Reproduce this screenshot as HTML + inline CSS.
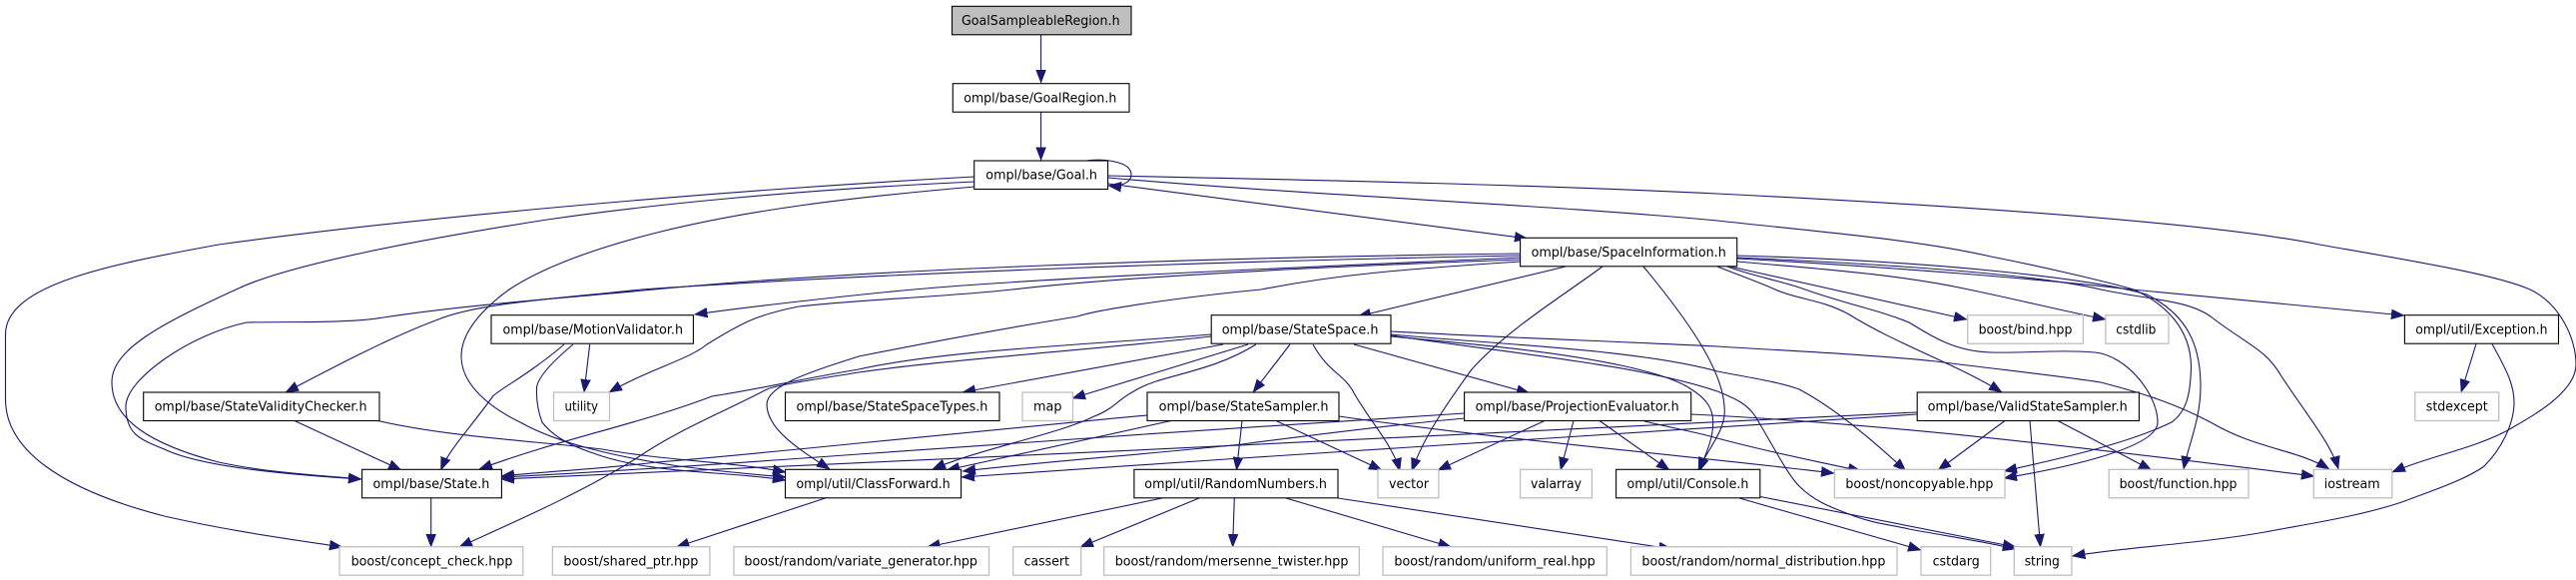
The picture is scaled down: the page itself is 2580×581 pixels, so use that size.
<!DOCTYPE html>
<html><head><meta charset="utf-8"><title>GoalSampleableRegion.h include graph</title>
<style>
html,body{margin:0;padding:0;background:#fff}
svg{display:block}
text{font-family:"DejaVu Sans","Liberation Sans",sans-serif;font-size:13px;fill:#000}
.e path{fill:none;stroke:#191970;stroke-width:1.1;marker-end:url(#a)}
.h rect{fill:#fff;stroke:#000;stroke-width:1.1}
.s rect{fill:#fff;stroke:#bfbfbf;stroke-width:1.3}
</style></head><body>
<svg width="2580" height="581" viewBox="0 0 2580 581" xmlns="http://www.w3.org/2000/svg">
<defs><marker id="a" markerUnits="userSpaceOnUse" markerWidth="15" markerHeight="12" refX="13" refY="5.5" orient="auto"><path d="M0,0.5 L13,5.5 L0,10.5 z" fill="#191970" stroke="#191970" stroke-width="0.5"/></marker></defs>
<g class="e">
<path d="M1042.6,35 L1042.6,83"/>
<path d="M1042.6,112.5 L1042.6,160.5"/>
<path d="M1088,161 C1100,159 1133,160 1133,175 C1133,184 1120,187 1110,186"/>
<path d="M1110,184 L1530,239"/>
<path d="M1110,176 C1350,181 1530,185 1720,194 C1900,203 2200,220 2323,245 C2420,262 2500,275 2534,290 C2565,305 2580,340 2580,365 C2580,395 2530,420 2510,432 C2475,450 2430,458 2396,473"/>
<path d="M1110,178 C1300,195 1550,205 1720,221 C1820,232 1920,240 1994,257 C2060,270 2120,285 2137,290 C2170,305 2194,330 2194.5,367 C2194,395 2190,412 2175,423 C2130,445 2060,460 2007,472"/>
<path d="M976,177 C700,192 400,220 219,245 C110,265 5.5,285 5.5,335 L5.5,400 C5.5,450 60,490 164.5,517 C230,532 290,540 343,548"/>
<path d="M976,182 C800,190 650,205 548,220 C420,240 290,265 238.6,289 C160,325 112,350 112,383 C112,420 150,445 219,463 C270,474 320,476 362,480"/>
<path d="M976,187 C850,198 750,210 658,233 C590,250 540,270 510,290 C480,312 462,335 462,357 C462,385 490,408 521,423 C560,445 620,458 680,467 C720,472 750,475 787,478"/>
<path d="M1523,254 C1200,258 860,270 655,290 C560,299 470,305 384,318 C350,324 290,322 247,323 C190,335 126,380 126,407 C126,435 140,440 164.5,450 C200,467 280,475 362,480"/>
<path d="M1523,256 C1200,262 860,275 642,290 C570,298 480,303 439,320 C390,338 330,370 286,393"/>
<path d="M1523,258 C1300,268 1050,278 915,290 C860,295 760,306 695.5,315"/>
<path d="M1523,260 C1300,268 1120,278 1014,290 C940,298 860,300 800,307 C760,315 745,322 708,345 C690,360 650,370 610,393"/>
<path d="M1523,262 C1400,270 1340,275 1263,290 C1180,298 1100,310 1079,317 C1000,330 920,345 860,357 C820,370 768,385 768,405 C768,430 800,450 831,470"/>
<path d="M1568,267 L1360,317"/>
<path d="M1605,267 C1560,300 1510,330 1474,370 C1445,410 1425,440 1414,472"/>
<path d="M1646,267 C1690,320 1725,370 1727,407 C1730,430 1710,450 1701,471"/>
<path d="M1740,256 C1950,262 2100,280 2150,295 C2190,315 2204,345 2204,387 C2204,420 2192,445 2187,470"/>
<path d="M1740,258 C1900,265 2040,275 2104,290 C2150,300 2190,300 2214,317 C2250,345 2270,350 2285,377 C2310,415 2335,445 2342,470"/>
<path d="M1740,259 C1900,268 2050,280 2135,290 L2408,316"/>
<path d="M1730,267 C1750,275 1790,283 1808,290 C1850,305 1880,310 1912,323 C1940,340 1960,352 1994,353 C2030,354 2060,350 2098,353 C2130,356 2161,395 2161,423 C2161,450 2060,470 2007,479"/>
<path d="M1720,267 C1740,275 1760,282 1778,290 C1800,300 1825,300 1852,315 C1900,345 1960,365 2005,393"/>
<path d="M1733,267 L1970,320"/>
<path d="M1740,262 C1830,270 1900,275 1967,289 C2020,300 2060,310 2109,320"/>
<path d="M1213,335 C1100,345 950,350 860,370 C800,380 760,390 713,397 C640,425 560,440 480,470"/>
<path d="M1213,337 C1100,350 950,360 860,373 C830,378 780,385 768,390 C720,415 680,430 636,460 C580,495 510,525 460,548"/>
<path d="M1225,345 L964,393"/>
<path d="M1250,345 L1074,399"/>
<path d="M1258,345 C1210,375 1160,375 1134,393 C1120,400 1115,410 1096,417 C1060,435 980,450 934,470"/>
<path d="M1292,345 L1255,393"/>
<path d="M1315,345 C1330,372 1345,375 1354,390 C1370,420 1395,445 1402,472"/>
<path d="M1356,345 L1532,394"/>
<path d="M1393,332 C1500,338 1620,342 1720,347 C1800,352 1870,355 1939,362 C2000,370 2060,376 2104,383 C2150,395 2180,405 2214,423 C2260,450 2300,450 2333,470"/>
<path d="M1393,335 C1500,345 1640,350 1720,372 C1750,378 1780,382 1802,390 C1840,410 1880,445 1909,472"/>
<path d="M1393,336 C1520,355 1640,365 1720,392 C1740,400 1750,405 1758,417 C1775,445 1790,475 1802,487 C1820,505 1840,510 1857,517 C1880,525 1890,525 1912,530 C1950,537 1990,543 2019,550"/>
<path d="M1393,337 C1480,345 1560,352 1628,367 C1650,372 1680,380 1694,390 C1710,400 1715.7,410 1715.7,423 C1716,440 1708,455 1702,472"/>
<path d="M1149,416 C1050,425 950,436 860,444 C780,452 720,458 658,463 C600,470 550,472 502,477"/>
<path d="M1173,421.5 L948,471"/>
<path d="M1244,421.5 L1238.5,471"/>
<path d="M1278,421.5 L1384,471"/>
<path d="M1341,417 C1500,440 1650,452 1837,474"/>
<path d="M1467,414 C1280,425 1050,442 860,455 C750,463 620,472 502,478"/>
<path d="M1467,419 C1400,425 1320,435 1244,445 C1150,455 1050,462 964,472"/>
<path d="M1547,421.5 L1440,471"/>
<path d="M1576,421.5 L1563,471"/>
<path d="M1602,421.5 L1672,471"/>
<path d="M1647,422 C1680,430 1700,433 1720,439 C1780,455 1820,462 1864,472"/>
<path d="M1694,415 C1900,425 2100,450 2318,477"/>
<path d="M1920,413 C1500,432 950,462 502,480"/>
<path d="M1920,415 C1700,428 1300,455 963,478"/>
<path d="M2008,421.5 L1941,471"/>
<path d="M2033,421.5 L2043.6,548"/>
<path d="M2061,421.5 L2155,471"/>
<path d="M565,345 C530,375 500,390 493.6,397 C470,430 450,450 441.5,471"/>
<path d="M590.7,345 L585,393"/>
<path d="M574,345 C550,365 537,380 537.5,390 C537,405 540,415 543,423 C560,445 590,452 603,457 C660,475 730,472 787,481"/>
<path d="M378.5,421.5 C450,438 540,442 603,450 C670,462 730,462 787,473"/>
<path d="M295,421.5 L402,471"/>
<path d="M431.7,499 L431.7,548"/>
<path d="M826.6,499 L677.4,548"/>
<path d="M1164,499 L928.6,548"/>
<path d="M1201,499 L1082,548"/>
<path d="M1236.3,499 L1234.6,548"/>
<path d="M1288,499 L1453.5,548"/>
<path d="M1340,499 L1674.5,550"/>
<path d="M1742,499 L1924,551"/>
<path d="M1763,497.5 L2019,548"/>
<path d="M2480,344.5 L2465,393"/>
<path d="M2496,344.5 C2510,370 2518,385 2518,403 C2518,425 2505,450 2488,467 C2470,480 2440,490 2405.6,503 C2360,518 2310,525 2268.5,533 C2200,545 2130,548 2075.4,557"/>
</g>
<g class="h">
<rect x="953.5" y="6.3" width="179.5" height="28.5" style="fill:#bfbfbf"/><text x="963" y="25" textLength="158.6" lengthAdjust="spacingAndGlyphs">GoalSampleableRegion.h</text>
<rect x="954.3" y="83.7" width="176.7" height="28.5"/><text x="965.3" y="102.3" textLength="153" lengthAdjust="spacingAndGlyphs">ompl/base/GoalRegion.h</text>
<rect x="975.7" y="161" width="133.9" height="28.5"/><text x="987.3" y="179.7" textLength="111.7" lengthAdjust="spacingAndGlyphs">ompl/base/Goal.h</text>
<rect x="1522.6" y="238.3" width="217.1" height="28.5"/><text x="1533.6" y="257" textLength="195.2" lengthAdjust="spacingAndGlyphs">ompl/base/SpaceInformation.h</text>
<rect x="492" y="315.7" width="202.4" height="28.5"/><text x="503.5" y="334.4" textLength="180.5" lengthAdjust="spacingAndGlyphs">ompl/base/MotionValidator.h</text>
<rect x="1213.2" y="315.7" width="179.8" height="28.5"/><text x="1223.7" y="334.4" textLength="156.8" lengthAdjust="spacingAndGlyphs">ompl/base/StateSpace.h</text>
<rect x="2408.4" y="315.7" width="154.1" height="28.5"/><text x="2419.3" y="334.4" textLength="132.2" lengthAdjust="spacingAndGlyphs">ompl/util/Exception.h</text>
<rect x="143.7" y="393" width="236.3" height="28.5"/><text x="154.7" y="411.7" textLength="212.8" lengthAdjust="spacingAndGlyphs">ompl/base/StateValidityChecker.h</text>
<rect x="786.5" y="393" width="214.5" height="28.5"/><text x="797.5" y="411.7" textLength="191.9" lengthAdjust="spacingAndGlyphs">ompl/base/StateSpaceTypes.h</text>
<rect x="1149" y="393" width="192" height="28.5"/><text x="1160.6" y="411.7" textLength="170" lengthAdjust="spacingAndGlyphs">ompl/base/StateSampler.h</text>
<rect x="1466.6" y="393" width="227.1" height="28.5"/><text x="1477.6" y="411.7" textLength="204.1" lengthAdjust="spacingAndGlyphs">ompl/base/ProjectionEvaluator.h</text>
<rect x="1920.2" y="393" width="222.2" height="28.5"/><text x="1930.6" y="411.7" textLength="200.2" lengthAdjust="spacingAndGlyphs">ompl/base/ValidStateSampler.h</text>
<rect x="362.6" y="470.3" width="139.8" height="28.5"/><text x="373.5" y="489" textLength="116.9" lengthAdjust="spacingAndGlyphs">ompl/base/State.h</text>
<rect x="786.5" y="470.3" width="176.1" height="28.5"/><text x="797.5" y="489" textLength="154.1" lengthAdjust="spacingAndGlyphs">ompl/util/ClassForward.h</text>
<rect x="1135.9" y="470.3" width="204.1" height="28.5"/><text x="1146.3" y="489" textLength="182.7" lengthAdjust="spacingAndGlyphs">ompl/util/RandomNumbers.h</text>
<rect x="1618.6" y="470.3" width="144.2" height="28.5"/><text x="1629.5" y="489" textLength="121.8" lengthAdjust="spacingAndGlyphs">ompl/util/Console.h</text>
</g>
<g class="s">
<rect x="554.5" y="393" width="56" height="28.5"/><text x="565.5" y="411.7" textLength="33.5" lengthAdjust="spacingAndGlyphs">utility</text>
<rect x="1024" y="393" width="50.5" height="28.5"/><text x="1035" y="411.7" textLength="28.5" lengthAdjust="spacingAndGlyphs">map</text>
<rect x="2418.8" y="393" width="83.9" height="28.5"/><text x="2429.8" y="411.7" textLength="61.9" lengthAdjust="spacingAndGlyphs">stdexcept</text>
<rect x="1970.7" y="315.7" width="115.7" height="28.5"/><text x="1981.6" y="334.4" textLength="93.8" lengthAdjust="spacingAndGlyphs">boost/bind.hpp</text>
<rect x="2108.9" y="315.7" width="63.1" height="28.5"/><text x="2119.3" y="334.4" textLength="40.1" lengthAdjust="spacingAndGlyphs">cstdlib</text>
<rect x="1380" y="470.3" width="60.9" height="28.5"/><text x="1391" y="489" textLength="40" lengthAdjust="spacingAndGlyphs">vector</text>
<rect x="1522.6" y="470.3" width="71.8" height="28.5"/><text x="1533" y="489" textLength="51" lengthAdjust="spacingAndGlyphs">valarray</text>
<rect x="1837.4" y="470.3" width="170.6" height="28.5"/><text x="1848.4" y="489" textLength="148" lengthAdjust="spacingAndGlyphs">boost/noncopyable.hpp</text>
<rect x="2112.2" y="470.3" width="139.8" height="28.5"/><text x="2122.6" y="489" textLength="117.9" lengthAdjust="spacingAndGlyphs">boost/function.hpp</text>
<rect x="2317.3" y="470.3" width="78.5" height="28.5"/><text x="2327.7" y="489" textLength="56" lengthAdjust="spacingAndGlyphs">iostream</text>
<rect x="340" y="547.7" width="183.8" height="28.5"/><text x="351.6" y="566.4" textLength="161.8" lengthAdjust="spacingAndGlyphs">boost/concept_check.hpp</text>
<rect x="553.4" y="547.7" width="157.5" height="28.5"/><text x="564.4" y="566.4" textLength="134.9" lengthAdjust="spacingAndGlyphs">boost/shared_ptr.hpp</text>
<rect x="735" y="547.7" width="255.5" height="28.5"/><text x="745.4" y="566.4" textLength="233.6" lengthAdjust="spacingAndGlyphs">boost/random/variate_generator.hpp</text>
<rect x="1014.7" y="547.7" width="68" height="28.5"/><text x="1025.6" y="566.4" textLength="45.4" lengthAdjust="spacingAndGlyphs">cassert</text>
<rect x="1105.7" y="547.7" width="255.6" height="28.5"/><text x="1116.7" y="566.4" textLength="233.7" lengthAdjust="spacingAndGlyphs">boost/random/mersenne_twister.hpp</text>
<rect x="1385" y="547.7" width="224.3" height="28.5"/><text x="1396.4" y="566.4" textLength="201.3" lengthAdjust="spacingAndGlyphs">boost/random/uniform_real.hpp</text>
<rect x="1633.4" y="547.7" width="266.6" height="28.5"/><text x="1644.4" y="566.4" textLength="244" lengthAdjust="spacingAndGlyphs">boost/random/normal_distribution.hpp</text>
<rect x="1924" y="547.7" width="69.7" height="28.5"/><text x="1935.6" y="566.4" textLength="47.1" lengthAdjust="spacingAndGlyphs">cstdarg</text>
<rect x="2017.3" y="547.7" width="57.6" height="28.5"/><text x="2027.7" y="566.4" textLength="35.1" lengthAdjust="spacingAndGlyphs">string</text>
</g>
</svg>
</body></html>
